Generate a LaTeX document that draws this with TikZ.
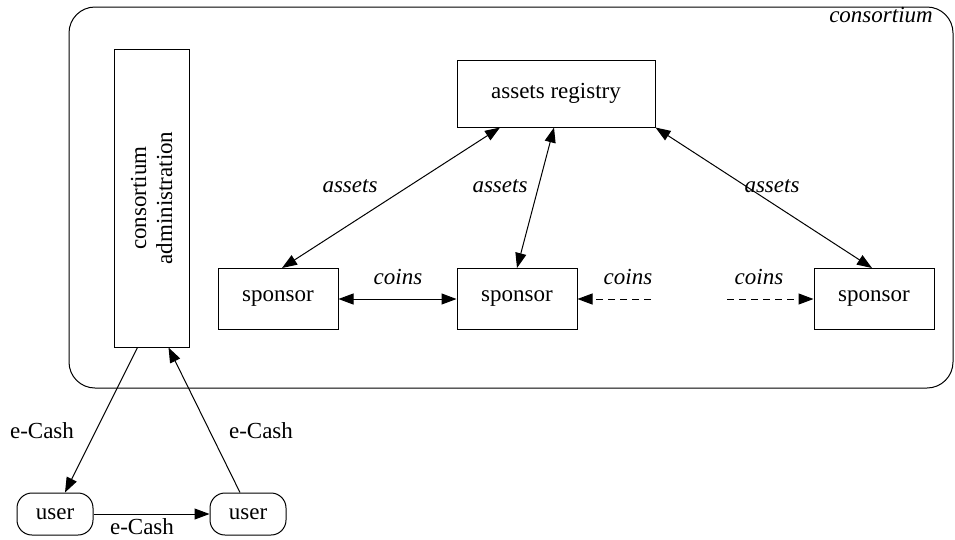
\documentclass[tikz,border=0pt]{standalone}
\usepackage{fontspec}
\setmainfont{Liberation Serif}
\usetikzlibrary{arrows.meta,calc}

\begin{document}
\begin{tikzpicture}[x=1pt,y=-1pt,line width=1pt,>={Triangle[length=15pt,width=11pt]},
    font=\fontsize{23}{26}\selectfont]
      \tikzstyle{box}=[draw, rectangle, inner sep=0pt]
      \tikzstyle{sponsor box}=[box, minimum width=120pt, minimum height=61pt]
      \tikzstyle{user box}=[box, rounded corners=15pt, minimum width=76pt, minimum height=42pt]
      \tikzstyle{flow}=[<->]
      \tikzstyle{annot}=[font=\fontsize{23}{26}\selectfont\itshape]

      \useasboundingbox (0,0) rectangle (955,539);

      % the consortium frame
      \node[draw, rounded corners=26pt, minimum width=884pt, minimum height=381pt] (cons) at (511,197.5) {};
      \node[annot] (cons-label) at (881,15) {consortium};

      % administration and registry
      \node[box, minimum width=75pt, minimum height=298pt] (admin) at (151.5,198) {};
      \node[rotate=90, align=center] (admin-text) at (admin.center) {consortium\\administration};
      \node[box, minimum width=198pt, minimum height=67pt] (registry) at (556,93.5) {assets registry};

      % the sponsors
      \node[sponsor box] (S-1) at (278,299) {sponsor};
      \node[sponsor box] (S-2) at (517,299) {sponsor};
      \node[sponsor box] (S-3) at (874,299) {sponsor};

      % the users
      \node[user box] (U-1) at (55,514) {user};
      \node[user box] (U-2) at (248,514) {user};

      % assets between registry and sponsors
      \draw[flow] ([xshift=-56pt]registry.south) -- ([xshift=4pt]S-1.north);
      \draw[flow] ([xshift=-2pt]registry.south) -- (S-2.north);
      \draw[flow] (registry.south east) -- ([xshift=-2pt]S-3.north);
      \node[annot] at (350,186) {assets};
      \node[annot] at (500,186) {assets};
      \node[annot] at (772,186) {assets};

      % coins between sponsors
      \coordinate (C-1) at (651,299);
      \coordinate (C-2) at (727,299);
      \draw[flow] (S-1.east) -- (S-2.west);
      \draw[->, dash pattern=on 7pt off 5pt] (C-1) -- (S-2.east);
      \draw[->, dash pattern=on 7pt off 5pt] (C-2) -- (S-3.west);
      \node[annot] at (398,277) {coins};
      \node[annot] at (628,277) {coins};
      \node[annot] at (759,277) {coins};

      % e-Cash
      \draw[->] ([xshift=-14pt]admin.south) -- ([xshift=10pt]U-1.north);
      \draw[->] ([xshift=-8pt]U-2.north) -- ([xshift=17pt]admin.south);
      \draw[->] (U-1.east) -- (U-2.west);
      \node at (42,431) {e-Cash};
      \node at (261,431) {e-Cash};
      \node at (142,527) {e-Cash};
\end{tikzpicture}
\end{document}
